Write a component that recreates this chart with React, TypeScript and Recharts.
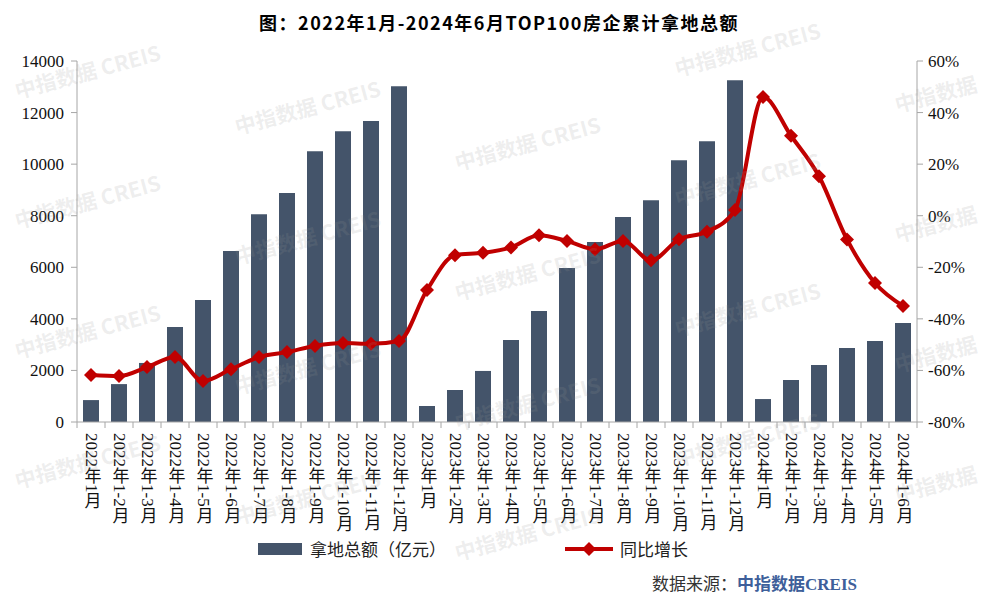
import React from 'react'
import { ComposedChart, Bar, Line, XAxis, YAxis } from 'recharts'

// 2022-01 .. 2024-06 累计
const categories = [
  '2022年1月', '2022年1-2月', '2022年1-3月', '2022年1-4月', '2022年1-5月', '2022年1-6月',
  '2022年1-7月', '2022年1-8月', '2022年1-9月', '2022年1-10月', '2022年1-11月', '2022年1-12月',
  '2023年1月', '2023年1-2月', '2023年1-3月', '2023年1-4月', '2023年1-5月', '2023年1-6月',
  '2023年1-7月', '2023年1-8月', '2023年1-9月', '2023年1-10月', '2023年1-11月', '2023年1-12月',
  '2024年1月', '2024年1-2月', '2024年1-3月', '2024年1-4月', '2024年1-5月', '2024年1-6月',
]

// 拿地总额（亿元）
const landAmount = [
  850, 1470, 2290, 3680, 4730, 6630, 8060, 8880, 10500, 11280, 11670, 13020,
  620, 1240, 1980, 3180, 4300, 5970, 6980, 7950, 8600, 10150, 10890, 13250,
  890, 1630, 2210, 2870, 3140, 3840,
]

// 同比增长（%）
const yoyGrowth = [
  -61.8, -62.2, -58.7, -54.8, -64.1, -59.5, -54.8, -52.9, -50.5, -49.4, -49.7, -48.6,
  -28.8, -15.3, -14.4, -12.3, -7.6, -9.8, -13.0, -9.8, -17.3, -9.1, -6.2, 2.2,
  46.0, 31.0, 15.3, -9.2, -26.1, -35.0,
]

const leftTicks = [0, 2000, 4000, 6000, 8000, 10000, 12000, 14000]
const rightTicks = [-80, -60, -40, -20, 0, 20, 40, 60]

const data = categories.map((name, i) => ({ name, amount: landAmount[i], yoy: yoyGrowth[i] }))

const BAR = '#44546A'
const RED = '#C00000'
const AXIS = '#a6a6a6'
const SERIF = 'Liberation Serif, Noto Sans CJK SC, serif'
const CJK = '"Noto Sans CJK SC", sans-serif'

const W = 998
const CHART_H = 560
const LEFT_W = 77
const RIGHT_W = 70
const RIGHT_M = 11
const BAND = (W - LEFT_W - RIGHT_W - RIGHT_M) / categories.length

function XTick(props: any) {
  const { x, y, payload, index } = props
  return (
    <g>
      <line x1={x - BAND / 2} x2={x - BAND / 2} y1={y} y2={y + 6} stroke={AXIS} />
      {index === categories.length - 1 && (
        <line x1={x + BAND / 2} x2={x + BAND / 2} y1={y} y2={y + 6} stroke={AXIS} />
      )}
      <text
        x={x}
        y={y + 11}
        fontSize={17}
        fill="#111"
        fontFamily={SERIF}
        style={{ writingMode: 'vertical-rl' } as any}
      >
        {payload.value}
      </text>
    </g>
  )
}

function Diamond(props: any) {
  const { cx, cy } = props
  if (cx == null || cy == null) return null
  const r = 7
  return <polygon points={`${cx},${cy - r} ${cx + r},${cy} ${cx},${cy + r} ${cx - r},${cy}`} fill={RED} />
}

function Watermarks() {
  const cols = [15, 235, 455, 675, 895]
  const marks: React.ReactNode[] = []
  cols.forEach((cx, i) => {
    for (let k = -1; k < 5; k++) {
      const y = ((75 + i * 36) % 130) + k * 130
      if (y < 35 || y > 540) continue
      const last = i === cols.length - 1
      marks.push(
        <span
          key={`${i}-${k}`}
          style={{
            position: 'absolute', left: cx, top: y, whiteSpace: 'nowrap',
            fontFamily: CJK, fontSize: 21, fontWeight: 700, color: 'rgba(150,150,150,0.17)',
            transform: 'rotate(-15deg)', transformOrigin: 'left center', pointerEvents: 'none',
          }}
        >
          {last ? '中指数据' : '中指数据 CREIS'}
        </span>
      )
    }
  })
  return <>{marks}</>
}

export default function App() {
  return (
    <div style={{ position: 'absolute', left: 0, top: 0, width: W, height: 598, background: '#fff', overflow: 'hidden' }}>
      <div style={{
        position: 'absolute', left: 0, top: 9, width: W, textAlign: 'center',
        fontFamily: CJK, fontSize: 18, fontWeight: 700, letterSpacing: 1.5, color: '#000',
      }}>
        图：2022年1月-2024年6月TOP100房企累计拿地总额
      </div>

      <div style={{ position: 'absolute', left: 0, top: 0 }}>
        <ComposedChart width={W} height={CHART_H} data={data} margin={{ top: 61, right: RIGHT_M, left: 0, bottom: 0 }}>
          <XAxis
            dataKey="name"
            interval={0}
            height={CHART_H - 422}
            tickSize={0}
            tickMargin={0}
            tickLine={false}
            axisLine={{ stroke: AXIS }}
            tick={<XTick />}
          />
          <YAxis
            yAxisId="left"
            width={LEFT_W}
            domain={[0, 14000]}
            ticks={leftTicks}
            tickSize={6}
            tickMargin={7}
            axisLine={{ stroke: AXIS }}
            tickLine={{ stroke: AXIS }}
            tick={{ fontSize: 17, fill: '#111', fontFamily: SERIF }}
          />
          <YAxis
            yAxisId="right"
            orientation="right"
            width={RIGHT_W}
            domain={[-80, 60]}
            ticks={rightTicks}
            tickSize={6}
            tickMargin={5}
            tickFormatter={(v: number) => `${v}%`}
            axisLine={{ stroke: AXIS }}
            tickLine={{ stroke: AXIS }}
            tick={{ fontSize: 17, fill: '#111', fontFamily: SERIF }}
          />
          <Bar yAxisId="left" dataKey="amount" fill={BAR} barSize={16} isAnimationActive={false} />
          <Line
            yAxisId="right"
            type="monotone"
            dataKey="yoy"
            stroke={RED}
            strokeWidth={4}
            dot={<Diamond />}
            activeDot={false}
            isAnimationActive={false}
          />
        </ComposedChart>
      </div>

      {/* legend */}
      <div style={{ position: 'absolute', left: 258, top: 536, display: 'flex', alignItems: 'center', fontFamily: CJK, fontSize: 17, color: '#222' }}>
        <span style={{ display: 'inline-block', width: 44, height: 12, background: BAR, marginRight: 8 }} />
        <span>拿地总额（亿元）</span>
        <svg width={50} height={20} style={{ marginLeft: 118, marginRight: 6 }}>
          <line x1={1} x2={49} y1={10} y2={10} stroke={RED} strokeWidth={4} />
          <polygon points="25,3 32,10 25,17 18,10" fill={RED} />
        </svg>
        <span>同比增长</span>
      </div>

      {/* source */}
      <div style={{ position: 'absolute', left: 652, top: 570, fontSize: 17, whiteSpace: 'nowrap' }}>
        <span style={{ fontFamily: CJK, color: '#333' }}>数据来源：</span>
        <span style={{ fontFamily: CJK, fontWeight: 700, color: '#3E5F9A' }}>中指数据</span>
        <span style={{ fontFamily: SERIF, fontWeight: 700, color: '#3E5F9A' }}>CREIS</span>
      </div>

      <Watermarks />
    </div>
  )
}
